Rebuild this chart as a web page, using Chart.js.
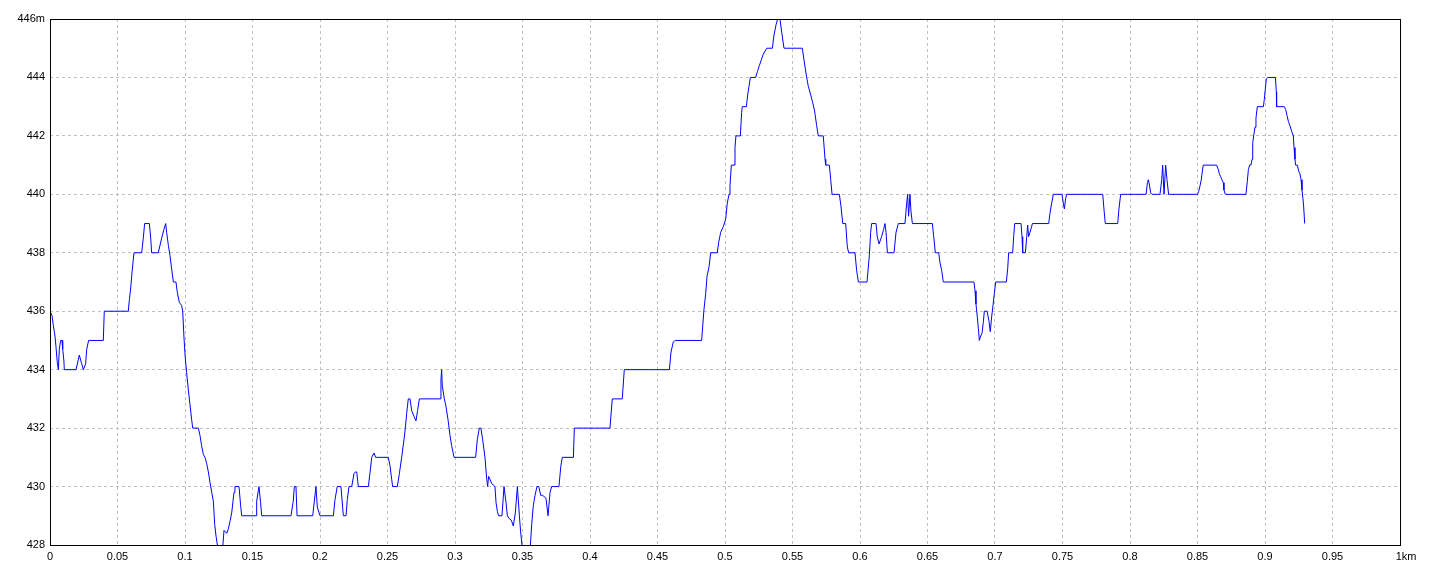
<!DOCTYPE html>
<html lang="en">
<head>
    <meta charset="UTF-8">
    <title>Elevation profile</title>
    <script src="https://cdn.jsdelivr.net/npm/chart.js"></script>
    <style>
        body {
            margin: 0;
            background: white;
        }
        #wrap {
            width: 1440px;
            height: 576px;
        }
    </style>
</head>
<body>
    <div id="wrap"><canvas id="profile"></canvas></div>

    <script>
        // distance along the track (km) and elevation (m)
        const distance = [
            0, 0.0015, 0.0025, 0.0037, 0.0044, 0.0054, 0.0062, 0.0069, 0.0079, 0.0089,
            0.0094, 0.0103, 0.0106, 0.0193, 0.0217, 0.0235, 0.0247, 0.0264, 0.0272, 0.0286,
            0.0395, 0.0402, 0.058, 0.0588, 0.0598, 0.0607, 0.0622, 0.0679, 0.0691, 0.0701,
            0.0736, 0.0746, 0.0753, 0.0802, 0.0827, 0.0844, 0.0857, 0.0864, 0.0877, 0.0889,
            0.0901, 0.0914, 0.0933, 0.0943, 0.0958, 0.0975, 0.0983, 0.0993, 0.1002, 0.1012,
            0.1025, 0.1037, 0.1049, 0.1057, 0.1099, 0.1111, 0.1123, 0.1136, 0.1148, 0.116,
            0.1173, 0.1185, 0.1198, 0.121, 0.122, 0.123, 0.124, 0.1279, 0.1289, 0.1309,
            0.1321, 0.1333, 0.1346, 0.1363, 0.137, 0.14, 0.1412, 0.142, 0.1526, 0.1531,
            0.1548, 0.156, 0.1568, 0.1785, 0.1802, 0.181, 0.1822, 0.183, 0.1946, 0.1958,
            0.197, 0.198, 0.2, 0.2099, 0.2111, 0.2128, 0.2155, 0.2173, 0.2193, 0.2202,
            0.2215, 0.2235, 0.2252, 0.2262, 0.2272, 0.2284, 0.2358, 0.237, 0.2383, 0.24,
            0.2412, 0.2506, 0.2519, 0.2531, 0.2538, 0.2573, 0.2588, 0.2605, 0.2622, 0.2632,
            0.2642, 0.2654, 0.2667, 0.2679, 0.2696, 0.2711, 0.2723, 0.2736, 0.2889, 0.2896,
            0.2901, 0.2906, 0.2921, 0.2933, 0.2948, 0.2963, 0.2975, 0.2993, 0.3153, 0.3165,
            0.318, 0.3192, 0.3205, 0.3222, 0.3235, 0.3242, 0.3249, 0.3259, 0.3272, 0.3296,
            0.3304, 0.3314, 0.3323, 0.3348, 0.3363, 0.3378, 0.3388, 0.3402, 0.3417, 0.3432,
            0.3447, 0.3462, 0.3477, 0.3486, 0.3501, 0.3556, 0.3568, 0.358, 0.3593, 0.3607,
            0.362, 0.3635, 0.3649, 0.3674, 0.3689, 0.3704, 0.3716, 0.377, 0.3784, 0.3795,
            0.3877, 0.3884, 0.4148, 0.4165, 0.4239, 0.4254, 0.4588, 0.46, 0.4617, 0.4632,
            0.4827, 0.4835, 0.4844, 0.4857, 0.4867, 0.4881, 0.4894, 0.4943, 0.4953, 0.4968,
            0.4988, 0.5005, 0.5017, 0.503, 0.5037, 0.5047, 0.5067, 0.5074, 0.5081, 0.5114,
            0.5123, 0.5128, 0.5158, 0.5168, 0.5178, 0.5188, 0.5227, 0.524, 0.5254, 0.5269,
            0.5284, 0.5309, 0.5351, 0.5363, 0.5378, 0.539, 0.5407, 0.542, 0.5437, 0.5573,
            0.5585, 0.5595, 0.5605, 0.5617, 0.5635, 0.5649, 0.5664, 0.5679, 0.5691, 0.5728,
            0.5741, 0.5746, 0.5773, 0.5783, 0.5793, 0.5847, 0.5859, 0.5872, 0.5894, 0.5906,
            0.5916, 0.5963, 0.5975, 0.5988, 0.6052, 0.6069, 0.6079, 0.6086, 0.6119, 0.6128,
            0.6141, 0.616, 0.6175, 0.6185, 0.6193, 0.6203, 0.6252, 0.6267, 0.6284, 0.6333,
            0.6346, 0.6353, 0.636, 0.637, 0.6378, 0.6388, 0.6536, 0.6546, 0.6558, 0.6583,
            0.6593, 0.6605, 0.6617, 0.6844, 0.6852, 0.6859, 0.6869, 0.6877, 0.6884, 0.6894,
            0.6904, 0.6914, 0.6921, 0.6941, 0.6956, 0.6965, 0.6975, 0.6985, 0.6995, 0.7005,
            0.7084, 0.7094, 0.7101, 0.7131, 0.7138, 0.7146, 0.7193, 0.72, 0.7205, 0.7225,
            0.7235, 0.7242, 0.7249, 0.7259, 0.7269, 0.7277, 0.7398, 0.7407, 0.742, 0.7432,
            0.7496, 0.7506, 0.7514, 0.7523, 0.7531, 0.7798, 0.7807, 0.7817, 0.7909, 0.7918,
            0.7931, 0.8119, 0.8129, 0.8136, 0.8143, 0.8153, 0.8163, 0.8222, 0.8235, 0.8242,
            0.8252, 0.8264, 0.8274, 0.8286, 0.8499, 0.8509, 0.8519, 0.8528, 0.8536, 0.8543,
            0.8642, 0.8654, 0.8662, 0.8672, 0.8681, 0.8691, 0.8696, 0.8706, 0.8859, 0.8869,
            0.8877, 0.8886, 0.8896, 0.8904, 0.8909, 0.8916, 0.8926, 0.8933, 0.8943, 0.8988,
            0.8995, 0.9002, 0.901, 0.902, 0.9077, 0.9084, 0.9086, 0.9143, 0.9153, 0.9163,
            0.9173, 0.9185, 0.9198, 0.921, 0.9215, 0.9222, 0.9227, 0.924, 0.9249, 0.9259,
            0.9267, 0.9274, 0.9281, 0.9286, 0.9294
        ];
        const elevation = [
            436, 435.85, 435.5, 435.15, 434.8, 434.25, 434, 434.7, 435, 435,
            434.7, 434.3, 434, 434, 434.5, 434.2, 434, 434.2, 434.7, 435,
            435, 436, 436, 436.4, 436.8, 437.3, 438, 438, 438.5, 439,
            439, 438.5, 438, 438, 438.5, 438.8, 439, 438.7, 438.25, 437.9,
            437.45, 437, 437, 436.65, 436.3, 436.2, 436, 435.05, 434.4, 433.9,
            433.3, 432.8, 432.3, 432, 432, 431.75, 431.4, 431.1, 431, 430.8,
            430.5, 430.15, 429.8, 429.5, 428.7, 428.3, 428, 427.9, 428.5, 428.4,
            428.55, 428.8, 429.1, 429.8, 430, 430, 429.35, 429, 429, 429.5,
            430, 429.45, 429, 429, 429.5, 430, 430, 429, 429, 429.5,
            430, 429.3, 429, 429, 429.55, 430, 430, 429, 429, 429.55,
            430, 430, 430.45, 430.5, 430.5, 430, 430, 430.45, 431, 431.15,
            431, 431, 430.7, 430.25, 430, 430, 430.45, 431, 431.6, 432,
            432.5, 433, 433, 432.6, 432.4, 432.25, 432.6, 433, 433, 433.65,
            434, 433.45, 433, 432.75, 432.3, 431.75, 431.4, 431, 431, 431.6,
            432, 432, 431.6, 431, 430.25, 430, 430.35, 430.25, 430.1, 430,
            429.45, 429.15, 429, 429, 430, 429.45, 429, 428.9, 428.85, 428.65,
            429.1, 430, 429, 428.45, 427.8, 427.8, 428.7, 429.35, 429.7, 430,
            430, 429.7, 429.7, 429.6, 429, 429.8, 430, 430, 430.7, 431,
            431, 432, 432, 433, 433, 434, 434, 434.6, 434.95, 435,
            435, 435.5, 436.05, 436.6, 437.2, 437.5, 438, 438, 438.35, 438.7,
            438.9, 439.15, 439.7, 440, 440.3, 441, 441, 441.6, 442, 442,
            442.8, 443, 443, 443.4, 443.7, 444, 444, 444.2, 444.4, 444.6,
            444.8, 445, 445, 445.45, 445.8, 446, 446, 445.55, 445, 445,
            444.6, 444.3, 444, 443.7, 443.4, 443.15, 442.85, 442.35, 442, 442,
            441.2, 441, 441, 440.5, 440, 440, 439.6, 439, 439, 438.2,
            438, 438, 437.4, 437, 437, 437.9, 438.7, 439, 439, 438.55,
            438.3, 438.55, 438.8, 439, 438.7, 438, 438, 438.7, 439, 439,
            439.7, 440, 439.25, 440, 439.4, 439, 439, 438.55, 438, 438,
            437.65, 437.4, 437, 437, 436.7, 436.25, 435.8, 435.4, 435, 435.15,
            435.25, 435.65, 436, 436, 435.65, 435.3, 435.8, 436.2, 436.6, 437,
            437, 437.45, 438, 438, 438.55, 439, 439, 438.55, 438, 438,
            438.55, 438.95, 438.55, 438.7, 438.85, 439, 439, 439.35, 439.7, 440,
            440, 439.7, 439.5, 439.85, 440, 440, 439.5, 439, 439, 439.5,
            440, 440, 440.4, 440.5, 440.35, 440.05, 440, 440, 440.5, 441,
            440, 441, 440.5, 440, 440, 440.1, 440.3, 440.5, 440.8, 441,
            441, 440.85, 440.7, 440.6, 440.5, 440.4, 440.15, 440, 440, 440.45,
            440.85, 441, 441, 441.2, 441.75, 442, 442.3, 442.6, 443, 443,
            443.25, 443.6, 443.95, 444, 444, 443.5, 443, 443, 442.9, 442.7,
            442.5, 442.35, 442.15, 442, 441.6, 441.2, 441, 441, 440.8, 440.7,
            440.5, 440.15, 439.85, 439.6, 439
        ];

        // axis ranges and tick spacing
        const xRange = [0, 1];
        const xStep = 0.05;
        const yRange = [428, 446];
        const yStep = 2;

        const points = distance.map((d, i) => ({ x: d, y: elevation[i] }));

        // black frame round the plot area
        const frame = {
            id: 'frame',
            afterDraw(chart) {
                const a = chart.chartArea;
                const ctx = chart.ctx;
                ctx.save();
                ctx.strokeStyle = '#000';
                ctx.lineWidth = 1;
                ctx.setLineDash([]);
                ctx.strokeRect(Math.round(a.left) + 0.5, Math.round(a.top) + 0.5,
                    Math.round(a.right - a.left), Math.round(a.bottom - a.top));
                ctx.restore();
            }
        };

        const tickFont = { family: "'Liberation Sans', Arial, sans-serif", size: 11 };

        new Chart(document.getElementById('profile'), {
            type: 'scatter',
            data: {
                datasets: [{
                    data: points,
                    showLine: true,
                    borderColor: '#0000ff',
                    borderWidth: 1,
                    pointRadius: 0,
                    tension: 0
                }]
            },
            options: {
                responsive: true,
                maintainAspectRatio: false,
                animation: false,
                layout: { padding: { top: 19, right: 40, left: 0, bottom: 0 } },
                plugins: {
                    legend: { display: false },
                    tooltip: { enabled: false }
                },
                scales: {
                    x: {
                        type: 'linear',
                        min: xRange[0],
                        max: xRange[1],
                        afterFit(scale) { scale.height = 31; },
                        border: { display: false, dash: [3, 3] },
                        grid: {
                            color: '#c0c0c0',
                            drawTicks: false
                        },
                        ticks: {
                            stepSize: xStep,
                            padding: 5,
                            color: '#000',
                            font: tickFont,
                            maxRotation: 0,
                            autoSkip: false,
                            callback: v => {
                                const s = String(parseFloat(v.toFixed(2)));
                                return v === xRange[1] ? '    ' + s + 'km' : s;
                            }
                        }
                    },
                    y: {
                        min: yRange[0],
                        max: yRange[1],
                        afterFit(scale) { scale.width = 50; },
                        border: { display: false, dash: [3, 3] },
                        grid: {
                            color: '#c0c0c0',
                            drawTicks: false
                        },
                        ticks: {
                            stepSize: yStep,
                            padding: 5,
                            color: '#000',
                            font: tickFont,
                            callback: v => v === yRange[1] ? v + 'm' : String(v)
                        }
                    }
                }
            },
            plugins: [frame]
        });
    </script>
</body>
</html>
